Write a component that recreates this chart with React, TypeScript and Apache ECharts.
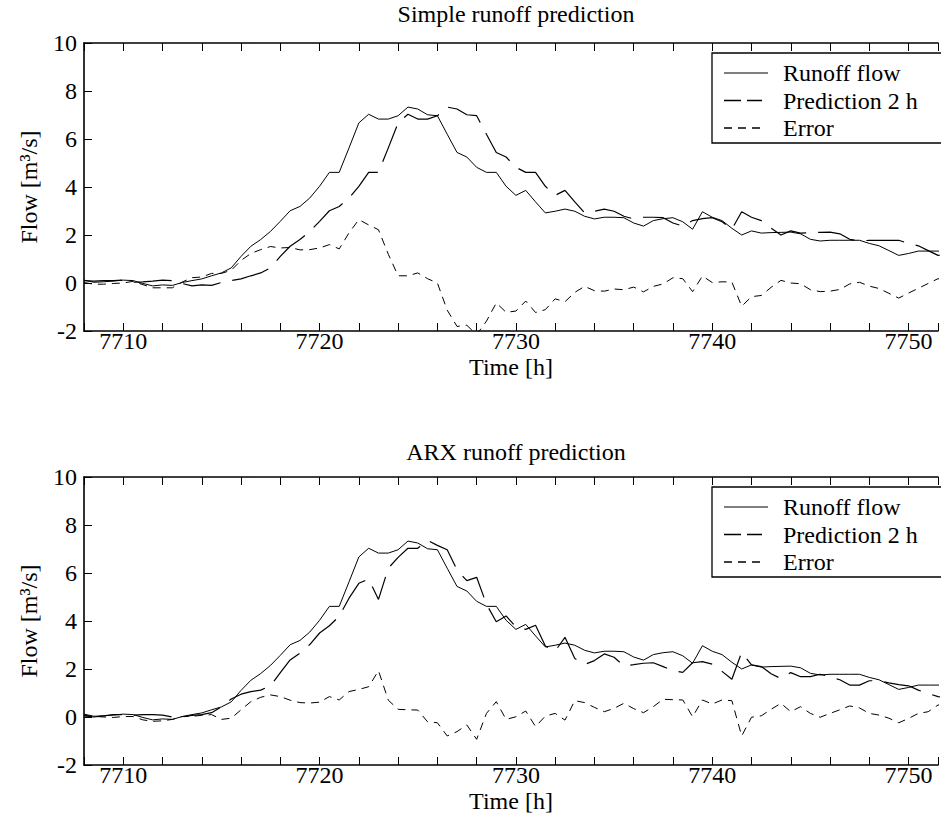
import React, { useEffect, useRef } from "react";
import * as echarts from "echarts";

const hours = [
  7708, 7708.5, 7709, 7709.5, 7710, 7710.5, 7711, 7711.5, 7712, 7712.5,
  7713, 7713.5, 7714, 7714.5, 7715, 7715.5, 7716, 7716.5, 7717, 7717.5,
  7718, 7718.5, 7719, 7719.5, 7720, 7720.5, 7721, 7721.5, 7722, 7722.5,
  7723, 7723.5, 7724, 7724.5, 7725, 7725.5, 7726, 7726.5, 7727, 7727.5,
  7728, 7728.5, 7729, 7729.5, 7730, 7730.5, 7731, 7731.5, 7732, 7732.5,
  7733, 7733.5, 7734, 7734.5, 7735, 7735.5, 7736, 7736.5, 7737, 7737.5,
  7738, 7738.5, 7739, 7739.5, 7740, 7740.5, 7741, 7741.5, 7742, 7742.5,
  7743, 7743.5, 7744, 7744.5, 7745, 7745.5, 7746, 7746.5, 7747, 7747.5,
  7748, 7748.5, 7749, 7749.5, 7750, 7750.5, 7751, 7751.5, 7752,
];

const runoffFlow = [
  0.12, 0.03, 0.05, 0.08, 0.12, 0.1, -0.02, -0.12, -0.08, -0.1,
  0.02, 0.1, 0.17, 0.3, 0.42, 0.63, 1.11, 1.53, 1.81, 2.15,
  2.57, 3.01, 3.19, 3.54, 4.03, 4.61, 4.61, 5.63, 6.67, 7.03,
  6.83, 6.83, 6.97, 7.33, 7.25, 7.01, 6.97, 6.2, 5.44, 5.25,
  4.82, 4.61, 4.61, 4.03, 3.65, 3.86, 3.38, 2.92, 2.99, 3.08,
  2.99, 2.78, 2.67, 2.74, 2.74, 2.72, 2.5, 2.37, 2.6, 2.68,
  2.72, 2.55, 2.24, 2.97, 2.74, 2.6, 2.28, 2.0, 2.17, 2.08,
  2.1, 2.11, 2.12, 2.05, 1.82, 1.75, 1.78, 1.78, 1.78, 1.78,
  1.65, 1.55, 1.35, 1.15, 1.23, 1.33, 1.33, 1.33, 1.33,
];

const simplePrediction = [
  0.1, 0.08, 0.1, 0.1, 0.12, 0.03, 0.05, 0.08, 0.12, 0.1,
  -0.02, -0.12, -0.08, -0.1, 0.02, 0.1, 0.17, 0.3, 0.42, 0.63,
  1.11, 1.53, 1.81, 2.15, 2.57, 3.01, 3.19, 3.54, 4.03, 4.61,
  4.61, 5.63, 6.67, 7.03, 6.83, 6.83, 6.97, 7.33, 7.25, 7.01,
  6.97, 6.2, 5.44, 5.25, 4.82, 4.61, 4.61, 4.03, 3.65, 3.86,
  3.38, 2.92, 2.99, 3.08, 2.99, 2.78, 2.67, 2.74, 2.74, 2.72,
  2.5, 2.37, 2.6, 2.68, 2.72, 2.55, 2.24, 2.97, 2.74, 2.6,
  2.28, 2.0, 2.17, 2.08, 2.1, 2.11, 2.12, 2.05, 1.82, 1.75,
  1.78, 1.78, 1.78, 1.78, 1.65, 1.55, 1.35, 1.15, 1.23,
];

const simpleError = [
  0.02, -0.05, -0.05, -0.02, 0.0, 0.07, -0.07, -0.2, -0.2, -0.2,
  0.04, 0.22, 0.25, 0.4, 0.4, 0.53, 0.94, 1.23, 1.39, 1.52,
  1.46, 1.48, 1.38, 1.39, 1.46, 1.6, 1.42, 2.09, 2.64, 2.42,
  2.22, 1.2, 0.3, 0.3, 0.42, 0.18, 0.0, -1.13, -1.81, -1.76,
  -2.15, -1.59, -0.83, -1.22, -1.17, -0.75, -1.23, -1.11, -0.66, -0.78,
  -0.39, -0.14, -0.32, -0.34, -0.25, -0.28, -0.17, -0.37, -0.14, -0.04,
  0.22, 0.18, -0.36, 0.29, 0.02, 0.05, 0.04, -0.97, -0.57, -0.52,
  -0.18, 0.11, 0.0, -0.03, -0.28, -0.36, -0.34, -0.27, -0.04, 0.03,
  -0.13, -0.23, -0.43, -0.63, -0.42, -0.22, -0.02, 0.18, 0.1,
];

const arxPrediction = [
  0.05, 0.0, 0.05, 0.1, 0.1, 0.08, 0.1, 0.1, 0.08, 0.0,
  0.0, 0.07, 0.1, 0.18, 0.42, 0.75, 0.95, 1.06, 1.12, 1.3,
  1.85, 2.38, 2.66, 3.02, 3.5, 3.8, 4.2, 4.95, 5.57, 5.75,
  4.9, 6.2, 6.65, 7.03, 7.03, 7.36, 7.15, 6.97, 6.13, 5.68,
  5.82, 4.7, 3.97, 4.21, 3.76, 3.65, 3.82, 2.96, 2.75, 3.32,
  2.44, 2.19, 2.35, 2.63, 2.49, 2.13, 2.18, 2.24, 2.26, 2.1,
  1.93, 1.86, 2.26, 2.31, 2.2, 1.9, 1.57, 2.7, 2.17, 2.1,
  1.8, 1.6, 1.85, 1.68, 1.68, 1.78, 1.68, 1.55, 1.33, 1.33,
  1.51, 1.51, 1.42, 1.35, 1.3, 1.12, 0.98, 0.85, 0.8,
];

const arxError = [
  0.07, 0.03, 0.0, -0.02, 0.02, 0.02, -0.12, -0.18, -0.16, -0.1,
  0.02, 0.03, 0.07, 0.1, -0.1, -0.05, 0.3, 0.64, 0.82, 0.92,
  0.85, 0.7, 0.6, 0.58, 0.62, 0.85, 0.71, 1.06, 1.15, 1.26,
  1.93, 0.7, 0.32, 0.3, 0.29, -0.2, -0.24, -0.79, -0.61, -0.33,
  -0.93, 0.15, 0.64, -0.1, 0.01, 0.25, -0.4, 0.04, 0.15, -0.13,
  0.68, 0.6, 0.4, 0.22, 0.36, 0.57, 0.35, 0.18, 0.43, 0.74,
  0.72, 0.71, 0.01, 0.71, 0.54, 0.71, 0.68, -0.79, -0.01, 0.05,
  0.32, 0.57, 0.22, 0.43, 0.15, -0.01, 0.15, 0.3, 0.46, 0.38,
  0.15, 0.08, -0.05, -0.24, -0.06, 0.15, 0.22, 0.5, 0.55,
];

const titles = ["Simple runoff prediction", "ARX runoff prediction"];
const seriesNames = ["Runoff flow", "Prediction 2 h", "Error"];
const xTickValues = [7710, 7720, 7730, 7740, 7750];
const yTickValues = [-2, 0, 2, 4, 6, 8, 10];

const FONT = "Liberation Serif";

export default function App() {
  const ref = useRef<HTMLDivElement>(null);

  useEffect(() => {
    const chart = echarts.init(ref.current!, null, { renderer: "svg" });
    const pair = (vals: number[]) => hours.map((h, i) => [h, vals[i]]);
    const txt = { color: "#000", fontFamily: FONT, fontSize: 24 };
    const gridTops = [43, 477];

    const xAxes: any[] = [];
    gridTops.forEach((_, gi) => {
      xAxes.push({
        type: "value",
        gridIndex: gi,
        min: 7708,
        max: 7751.5,
        interval: 2,
        position: "bottom",
        axisLine: { show: true, onZero: false, lineStyle: { color: "#000", width: 1.6 } },
        axisTick: { show: true, inside: true, length: 8, lineStyle: { color: "#000", width: 1 } },
        axisLabel: {
          ...txt,
          margin: -2,
          formatter: (v: number) => (xTickValues.indexOf(v) >= 0 ? String(v) : ""),
        },
        splitLine: { show: false },
        name: "Time [h]",
        nameLocation: "middle",
        nameGap: 24,
        nameTextStyle: txt,
      });
      xAxes.push({
        type: "value",
        gridIndex: gi,
        min: 7708,
        max: 7751.5,
        interval: 2,
        position: "top",
        axisLine: { show: true, onZero: false, lineStyle: { color: "#000", width: 1.6 } },
        axisTick: { show: true, inside: true, length: 8, lineStyle: { color: "#000", width: 1 } },
        axisLabel: { show: false },
        splitLine: { show: false },
      });
    });

    const yAxes = gridTops.map((_, gi) => ({
      type: "value",
      gridIndex: gi,
      min: -2,
      max: 10,
      interval: 2,
      axisLine: { show: true, onZero: false, lineStyle: { color: "#000", width: 1.6 } },
      axisTick: { show: true, inside: true, length: 8, lineStyle: { color: "#000", width: 1 } },
      axisLabel: {
        ...txt,
        margin: 7,
        formatter: (v: number) => (yTickValues.indexOf(v) >= 0 ? String(v) : ""),
      },
      splitLine: { show: false },
      name: "Flow [m³/s]",
      nameLocation: "middle",
      nameRotate: 90,
      nameGap: 43,
      nameTextStyle: txt,
    }));

    const plotData = [
      [runoffFlow, simplePrediction, simpleError],
      [runoffFlow, arxPrediction, arxError],
    ];
    const dashes: any[] = ["solid", [38, 12], [8, 6]];
    const widths = [1, 1.2, 1];

    const series: any[] = [];
    plotData.forEach((set, gi) => {
      set.forEach((vals, si) => {
        series.push({
          type: "line",
          name: seriesNames[si],
          xAxisIndex: gi * 2,
          yAxisIndex: gi,
          data: pair(vals),
          symbol: "none",
          showSymbol: false,
          clip: true,
          silent: true,
          lineStyle: { color: "#000", width: widths[si], type: dashes[si] },
          emphasis: { disabled: true },
        });
      });
    });

    // legend boxes (drawn as graphics)
    const legendDash: any[] = [null, [17, 6], [8, 6]];
    const legendEnd = [768, 762, 760];
    const graphics: any[] = [];
    titles.forEach((t, i) => {
      graphics.push({
        type: "text",
        x: 516,
        y: i === 0 ? 14 : 452,
        style: {
          text: t,
          fill: "#000",
          font: `24px "${FONT}"`,
          textAlign: "center",
          textVerticalAlign: "middle",
          align: "center",
          verticalAlign: "middle",
        },
      });
    });
    gridTops.forEach((top) => {
      const boxTop = top + 10;
      graphics.push({
        type: "rect",
        shape: { x: 712, y: boxTop, width: 260, height: 90 },
        style: { fill: "#fff", stroke: "#000", lineWidth: 1.3 },
        z: 10,
      });
      seriesNames.forEach((n, k) => {
        const y = boxTop + 20 + k * 27.5;
        graphics.push({
          type: "line",
          shape: { x1: 724, y1: y, x2: legendEnd[k], y2: y },
          style: {
            stroke: "#000",
            lineWidth: k === 0 ? 1.1 : 1.5,
            lineDash: legendDash[k] || undefined,
          },
          z: 11,
        });
        graphics.push({
          type: "text",
          x: 783,
          y,
          style: {
            text: n,
            fill: "#000",
            font: `24px "${FONT}"`,
            textAlign: "left",
            textVerticalAlign: "middle",
            align: "left",
            verticalAlign: "middle",
          },
          z: 11,
        });
      });
    });

    chart.setOption({
      animation: false,
      backgroundColor: "#fff",
      grid: gridTops.map((top) => ({ left: 84, right: 0, top, height: 288 })),
      xAxis: xAxes,
      yAxis: yAxes,
      series,
      graphic: graphics,
    });

    return () => chart.dispose();
  }, []);

  return (
    <div
      ref={ref}
      style={{ position: "fixed", left: 0, top: 0, width: 941, height: 825, background: "#fff" }}
    />
  );
}
